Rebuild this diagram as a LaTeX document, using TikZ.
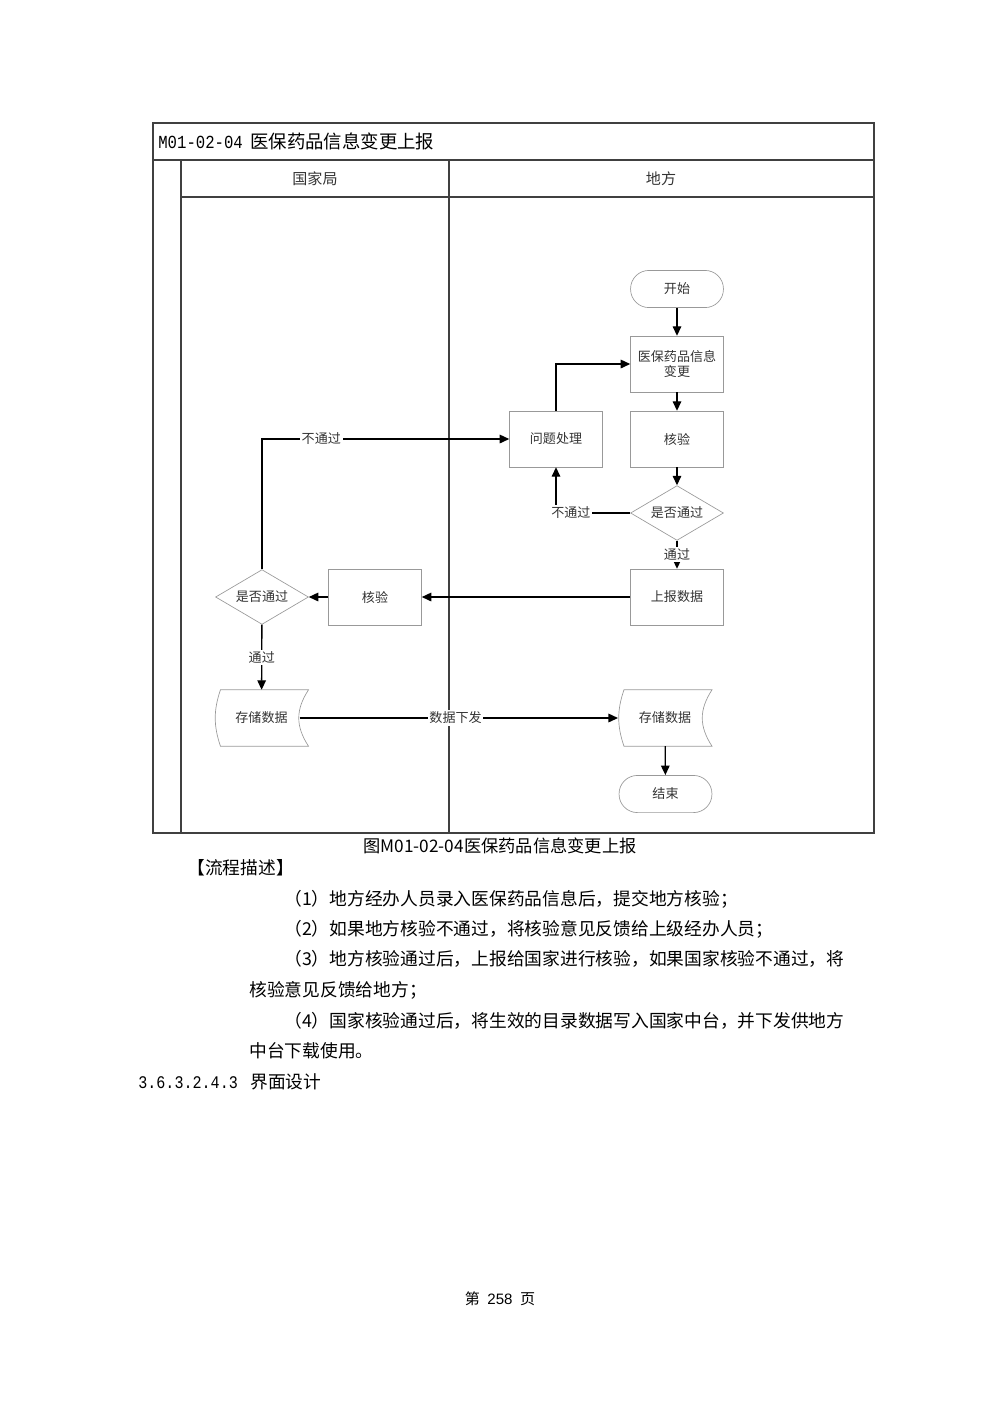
\documentclass[tikz,border=0pt]{standalone}
\usepackage{fontspec}
\setmainfont{Noto Sans CJK SC}
\newfontfamily\numfont[FakeStretch=0.85]{Liberation Mono}
\newfontfamily\pagefont{Liberation Sans}
\usepackage{tikz}
\usetikzlibrary{shapes.geometric, arrows.meta, positioning}

\tikzset{
    frame/.style={draw=black!75, line width=0.7pt},
    shapeline/.style={draw=black!40, line width=0.4pt},
    box/.style={shapeline, minimum width=1.95cm, minimum height=1.17cm,
        text=black!80, font=\fontsize{7.8pt}{9.5pt}\selectfont, align=center},
    term/.style={box, rounded corners=0.385cm, minimum height=0.78cm},
    dec/.style={box, diamond, aspect=1.7, inner sep=0pt, minimum height=1.15cm},
    store/.style={box, draw=none, minimum width=1.96cm},
    arr/.style={draw=black, line width=0.8pt, -{Triangle[length=2mm,width=1.8mm]}},
    lbl/.style={fill=white, inner sep=1pt, text=black!80, font=\fontsize{7.8pt}{9.5pt}\selectfont},
    line/.style={anchor=west, inner sep=0pt, font=\fontsize{10.6pt}{12pt}\selectfont}
}

\begin{document}
\begin{tikzpicture}[x=0.021cm, y=-0.021cm]
    \useasboundingbox (0,0) rectangle (1000,1415);

    % frame
    \draw[frame] (153,123) rectangle (874,833);
    \draw[frame] (153,160) -- (874,160);
    \draw[frame] (181,197) -- (874,197);
    \draw[frame] (181,160) -- (181,833);
    \draw[frame] (449,160) -- (449,833);

    \node[anchor=west, inner sep=0pt, font=\fontsize{11pt}{13pt}\selectfont] (title) at (158,141)
        {{\numfont M01-02-04}\hspace{0.4em}医保药品信息变更上报};
    \node[font=\fontsize{9pt}{11pt}\selectfont, text=black!80] (lane1) at (315,179) {国家局};
    \node[font=\fontsize{9pt}{11pt}\selectfont, text=black!80] (lane2) at (661,179) {地方};

    \node[term] (start) at (677,289) {开始};
    \node[box] (change) at (677,364) {医保药品信息\\变更};
    \node[box] (check1) at (677,439) {核验};
    \node[box] (fix) at (556,439) {问题处理};
    \node[dec] (pass1) at (677,513) {是否通过};
    \node[box] (report) at (677,597) {上报数据};
    \node[box] (check2) at (375,597) {核验};
    \node[dec] (pass2) at (262,597) {是否通过};
    \node[store] (save1) at (261.5,718) {存储数据};
    \node[store] (save2) at (665,718) {存储数据};
    \node[term] (end) at (665.5,794) {结束};

    % store outlines
    \draw[shapeline] ([shift={(6,0)}]save1.north west) .. controls +(-7,20) and +(-7,-20) .. ([shift={(6,0)}]save1.south west)
        -- (save1.south east) .. controls +(-13,-20) and +(-13,20) .. (save1.north east) -- cycle;
    \draw[shapeline] ([shift={(6,0)}]save2.north west) .. controls +(-7,20) and +(-7,-20) .. ([shift={(6,0)}]save2.south west)
        -- (save2.south east) .. controls +(-13,-20) and +(-13,20) .. (save2.north east) -- cycle;

    % start -> change -> check
    \draw[arr] (start) -- (change);
    \draw[arr] (change) -- (check1);
    \draw[arr] (check1) -- (pass1);

    % pass -> report, fail -> fix
    \draw[arr] (pass1) -- node[lbl] {通过} (report);
    \draw[arr] (pass1.west) -| node[lbl, pos=0.4] {不通过} (fix.south);
    \draw[arr] (fix.north) |- (change.west);

    % report -> national check
    \draw[arr] (report) -- (check2);
    \draw[arr] (check2) -- (pass2);
    \draw[arr] (pass2.north) |- node[lbl, pos=0.62] {不通过} (fix.west);
    \draw[arr] (pass2) -- node[lbl] {通过} (save1);

    % store -> store -> end
    \coordinate (save1e) at ([shift={(-9,0)}]save1.east);
    \draw[arr] (save1e) -- node[lbl, pos=0.49] {数据下发} (save2.west);
    \draw[arr] (save2) -- (end);

    % text below
    \node[font=\fontsize{10.3pt}{11pt}\selectfont] (caption) at (500,846) {图M01-02-04医保药品信息变更上报};
    \node[line] (head) at (187,868) {【流程描述】};
    \node[line] (l1) at (284,899) {（1）地方经办人员录入医保药品信息后，提交地方核验；};
    \node[line] (l2) at (284,929) {（2）如果地方核验不通过，将核验意见反馈给上级经办人员；};
    \node[line] (l3) at (284,959) {（3）地方核验通过后，上报给国家进行核验，如果国家核验不通过，将};
    \node[line] (l4) at (249,990) {核验意见反馈给地方；};
    \node[line] (l5) at (284,1021) {（4）国家核验通过后，将生效的目录数据写入国家中台，并下发供地方};
    \node[line] (l6) at (249,1051) {中台下载使用。};
    \node[line] (sec) at (138,1082) {{\numfont 3.6.3.2.4.3}\hspace{0.7em}界面设计};
    \node[font=\fontsize{9pt}{11pt}\selectfont] (page) at (500,1299) {第\hspace{0.5em}{\pagefont 258}\hspace{0.5em}页};
\end{tikzpicture}
\end{document}
